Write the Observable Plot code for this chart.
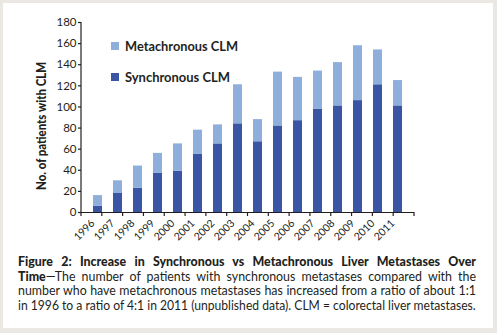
<!DOCTYPE html>
<html>
<head>
<meta charset="utf-8">
<script src="https://cdn.jsdelivr.net/npm/d3@7"></script>
<script src="https://cdn.jsdelivr.net/npm/@observablehq/plot@0.6"></script>
<style>
  html, body { margin: 0; padding: 0; }
  body { width: 497px; height: 333px; background: #ebe8e3; position: relative; overflow: hidden; font-family: Lato, "Open Sans", sans-serif; color: #231f20; }
  #panel { position: absolute; left: 3px; top: 3px; width: 490px; height: 325px; background: #fff; }
  #chart { position: absolute; left: 0; top: 0; }
  .legend { position: absolute; left: 108px; font-size: 13px; font-weight: 700; display: flex; align-items: center; white-space: nowrap; }
  .legend span.sw { display: inline-block; width: 8px; height: 8px; margin-right: 6px; }
  #ylabel { position: absolute; left: 39px; top: 123px; font-size: 14px; font-weight: 900; white-space: nowrap; transform-origin: 0 0; }
  #caption { position: absolute; left: 15px; top: 252px; width: 458px; font-size: 12.4px; line-height: 14.7px; }
  #caption div { white-space: nowrap; }
  #caption div.j { text-align: justify; text-align-last: justify; }
  #caption b { font-weight: 900; }
</style>
</head>
<body>
<div id="panel">
  <div id="chart"></div>
  <div class="legend" style="top:35px"><span class="sw" style="background:#8eaedc"></span><span id="lg1">Metachronous CLM</span></div>
  <div class="legend" style="top:66px"><span class="sw" style="background:#3a55a4"></span><span id="lg2">Synchronous CLM</span></div>
  <div id="ylabel"></div>
  <div id="caption">
    <div class="j"><b>Figure 2: Increase in Synchronous vs Metachronous Liver Metastases Over</b></div>
    <div class="j"><b>Time</b>—The number of patients with synchronous metastases compared with the</div>
    <div class="j">number who have metachronous metastases has increased from a ratio of about 1:1</div>
    <div>in 1996 to a ratio of 4:1 in 2011 (unpublished data). CLM = colorectal liver metastases.</div>
  </div>
</div>
<script>
const years = ["1996","1997","1998","1999","2000","2001","2002","2003","2004","2005","2006","2007","2008","2009","2010","2011"];
const synchronous = [6, 18, 23, 37, 39, 55, 65, 84, 67, 82, 87, 98, 101, 106, 121, 101];
const metachronous = [10, 12, 21, 19, 26, 23, 18, 37, 21, 51, 41, 36, 41, 52, 33, 24];
const seriesNames = ["Synchronous CLM", "Metachronous CLM"];
const seriesColors = ["#3a55a4", "#8eaedc"];
const yTicks = [0, 20, 40, 60, 80, 100, 120, 140, 160, 180];
const yLabel = "No. of patients with CLM";

const data = [];
years.forEach((y, i) => {
  data.push({year: y, series: seriesNames[0], value: synchronous[i]});
  data.push({year: y, series: seriesNames[1], value: metachronous[i]});
});

const W = 490, H = 240;
const plot = Plot.plot({
  width: W,
  height: H,
  marginLeft: 78,
  marginRight: 79,
  marginTop: 19,
  marginBottom: 31,
  style: {fontFamily: "Lato, sans-serif", fontSize: "11px", color: "#231f20", background: "transparent", overflow: "visible"},
  x: {domain: years, padding: 0.55, label: null},
  y: {domain: [0, 180], ticks: yTicks, label: null},
  color: {domain: seriesNames, range: seriesColors},
  marks: [
    Plot.barY(data, {x: "year", y: "value", fill: "series", order: seriesNames}),
    Plot.ruleY([0], {stroke: "#231f20", strokeWidth: 1.2}),
    Plot.axisY({ticks: yTicks, tickSize: 3, tickPadding: 2, stroke: "#231f20", strokeWidth: 1.2, fontSize: 11.5, label: null}),
    Plot.axisX({tickSize: 0, tickPadding: 9, tickRotate: -45, fontSize: 10.5, dx: -5, label: null})
  ]
});
document.getElementById("chart").appendChild(plot);

// y-axis title, fitted to the reference length
const yl = document.getElementById("ylabel");
yl.textContent = yLabel;
const w0 = yl.getBoundingClientRect().width;
yl.style.transform = `rotate(-90deg) translate(-64px, -10px) scale(${128 / w0}, 1)`;

// fit text widths
function fitWidth(el, target) {
  const w = el.getBoundingClientRect().width;
  el.style.display = "inline-block";
  el.style.transformOrigin = "0 50%";
  el.style.transform = `scaleX(${target / w})`;
}
fitWidth(document.getElementById("lg1"), 113);
fitWidth(document.getElementById("lg2"), 105);
document.querySelectorAll("#caption div").forEach(d => {
  const sw = d.scrollWidth;
  if (sw > 458) { d.style.transformOrigin = "0 0"; d.style.transform = `scaleX(${458 / sw})`; d.style.width = sw + "px"; }
});

// left axis line and x boundary ticks, using the plot's scales
const xs = plot.scale("x"), ys = plot.scale("y");
const svg = d3.select(plot);
const y0 = ys.apply(0), y180 = ys.apply(180);
const range = xs.range;
const g = svg.append("g").attr("stroke", "#231f20").attr("stroke-width", 1.2);
g.append("line").attr("x1", range[0]).attr("x2", range[0]).attr("y1", y0 + 0.6).attr("y2", y180);
const step = (range[1] - range[0]) / years.length;
for (let i = 0; i <= years.length; i++) {
  const xx = range[0] + i * step;
  g.append("line").attr("x1", xx).attr("x2", xx).attr("y1", y0).attr("y2", y0 + 4);
}
</script>
</body>
</html>
